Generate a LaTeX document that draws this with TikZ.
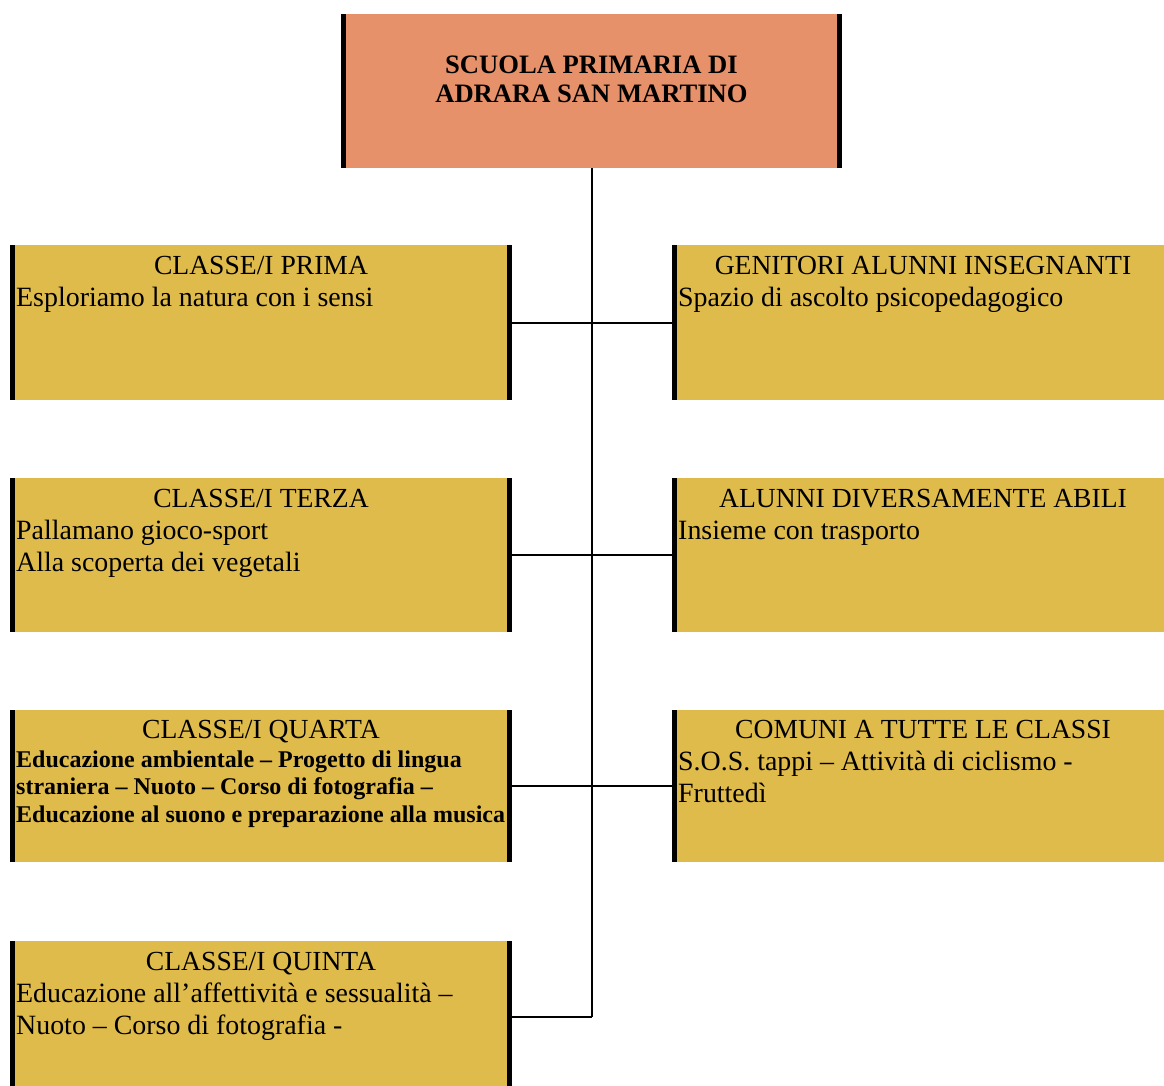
\documentclass[tikz,border=0pt]{standalone}
\usepackage{fontspec}
\setmainfont{Liberation Serif}
\usetikzlibrary{calc}
\definecolor{gold}{HTML}{DFBB4C}
\definecolor{rust}{HTML}{E6916A}
\begin{document}
\begin{tikzpicture}[x=1pt,y=-1pt,
  boxbase/.style={rectangle, inner sep=0pt, outer sep=0pt, minimum width=502pt, anchor=north west,
    path picture={\fill[black] (path picture bounding box.north west) rectangle ([xshift=5pt]path picture bounding box.south west);
                  \fill[black] (path picture bounding box.north east) rectangle ([xshift=-5pt]path picture bounding box.south east);}},
  goldbox/.style={boxbase, fill=gold},
  topbox/.style={boxbase, fill=rust, minimum width=501pt, minimum height=154pt},
  titletext/.style={inner sep=0pt, anchor=base, font=\fontsize{27.6}{32}\selectfont},
  bodytext/.style={inner sep=0pt, anchor=base west, font=\fontsize{27.9}{32}\selectfont},
  boldtext/.style={inner sep=0pt, anchor=base west, font=\fontsize{24}{27.5}\selectfont\bfseries},
  link/.style={line width=2pt, black}
]
\clip (0,0) rectangle (1164,1086);
\fill[white] (0,0) rectangle (1164,1086);

% top
\node[topbox] (top) at (341,14) {};
\node[inner sep=0pt, anchor=base] (toptext) at ($(top.north)+(0,60)$)
  {\parbox[t]{490pt}{\centering\fontsize{26.6}{29}\selectfont\bfseries SCUOLA PRIMARIA DI\\ADRARA SAN MARTINO}};

% left boxes
\node[goldbox, minimum height=155pt] (l1) at (10,245) {};
\node[goldbox, minimum height=154pt] (l2) at (10,478) {};
\node[goldbox, minimum height=152pt] (l3) at (10,710) {};
\node[goldbox, minimum height=152pt] (l4) at (10,941) {};
% right boxes
\node[goldbox, minimum height=155pt] (r1) at (672,245) {};
\node[goldbox, minimum height=154pt] (r2) at (672,478) {};
\node[goldbox, minimum height=152pt] (r3) at (672,710) {};

% texts
\node[titletext] (l1t) at ($(l1.north)+(0,29)$) {CLASSE/I PRIMA};
\node[bodytext] (l1b) at ($(l1.north west)+(6,61)$) {\parbox[t]{497pt}{\raggedright Esploriamo la natura con i sensi}};

\node[titletext] (l2t) at ($(l2.north)+(0,29)$) {CLASSE/I TERZA};
\node[bodytext] (l2b) at ($(l2.north west)+(6,61)$) {\parbox[t]{497pt}{\raggedright Pallamano gioco-sport\\Alla scoperta dei vegetali}};

\node[titletext] (l3t) at ($(l3.north)+(0,28)$) {CLASSE/I QUARTA};
\node[boldtext] (l3b) at ($(l3.north west)+(6,57)$) {\parbox[t]{497pt}{\raggedright Educazione ambientale – Progetto di lingua\\straniera – Nuoto – Corso di fotografia –\\Educazione al suono e preparazione alla musica}};

\node[titletext] (l4t) at ($(l4.north)+(0,29)$) {CLASSE/I QUINTA};
\node[bodytext] (l4b) at ($(l4.north west)+(6,61)$) {\parbox[t]{497pt}{\raggedright Educazione all’affettività e sessualità –\\Nuoto – Corso di fotografia -}};

\node[titletext] (r1t) at ($(r1.north)+(0,29)$) {GENITORI ALUNNI INSEGNANTI};
\node[bodytext] (r1b) at ($(r1.north west)+(6,61)$) {\parbox[t]{497pt}{\raggedright Spazio di ascolto psicopedagogico}};

\node[titletext] (r2t) at ($(r2.north)+(0,29)$) {ALUNNI DIVERSAMENTE ABILI};
\node[bodytext] (r2b) at ($(r2.north west)+(6,61)$) {\parbox[t]{497pt}{\raggedright Insieme con trasporto}};

\node[titletext] (r3t) at ($(r3.north)+(0,28)$) {COMUNI A TUTTE LE CLASSI};
\node[bodytext] (r3b) at ($(r3.north west)+(6,60)$) {\parbox[t]{497pt}{\raggedright S.O.S. tappi – Attività di ciclismo -\\Fruttedì}};

% connectors
\coordinate (trunkend) at (l4.east -| top.south);
\draw[link] (top.south) -- (trunkend);
\draw[link] (l1.east) -- (r1.west);
\draw[link] (l2.east) -- (r2.west);
\draw[link] (l3.east) -- (r3.west);
\draw[link] (l4.east) -- (trunkend);
\end{tikzpicture}
\end{document}
